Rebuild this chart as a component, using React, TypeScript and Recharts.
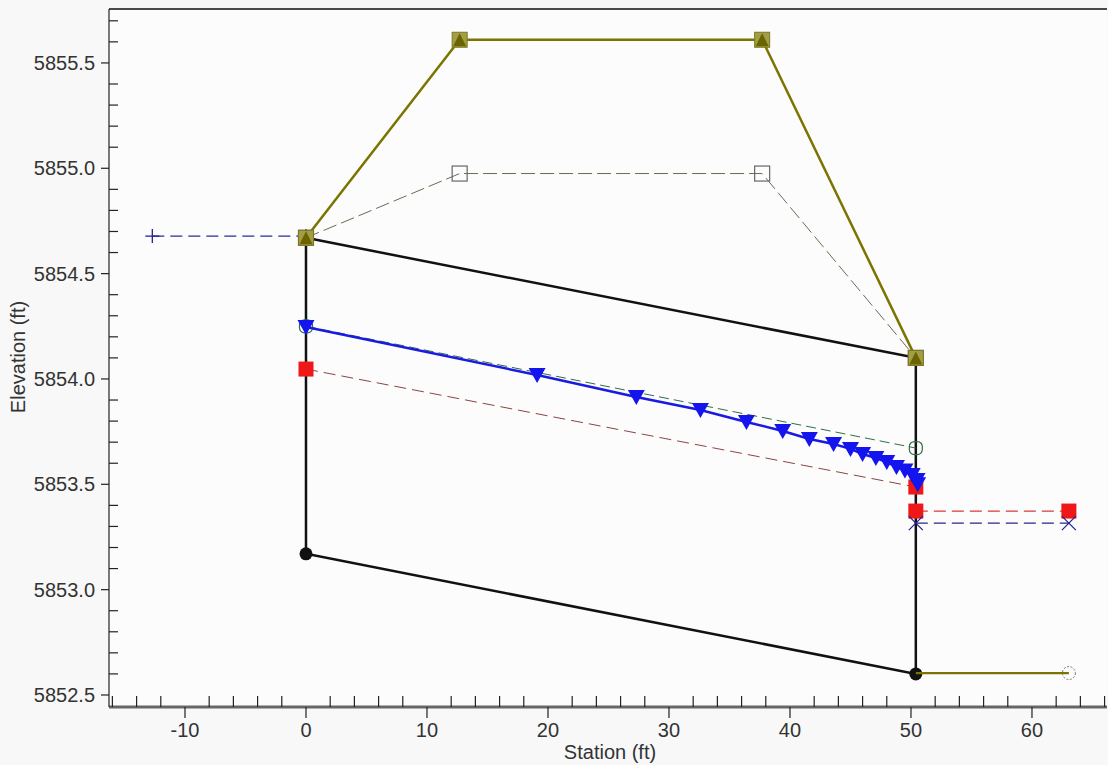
import React from 'react';
import { ScatterChart, Scatter, XAxis, YAxis, ReferenceLine, CartesianGrid, Label } from 'recharts';

// Axis setup
const X_DOMAIN: [number, number] = [-16.28, 66.2];
const Y_DOMAIN: [number, number] = [5852.443, 5855.756];

const xMajorTicks = [-10, 0, 10, 20, 30, 40, 50, 60];
const xMinorTicks = [-16, -14, -12, -8, -6, -4, -2, 2, 4, 6, 8, 12, 14, 16, 18, 22, 24, 26, 28, 32, 34, 36, 38, 42, 44, 46, 48, 52, 54, 56, 58, 62, 64, 66];
const yMajorTicks = [5852.5, 5853.0, 5853.5, 5854.0, 5854.5, 5855.0, 5855.5];
const yMinorTicks = [5852.6, 5852.7, 5852.8, 5852.9, 5853.1, 5853.2, 5853.3, 5853.4, 5853.6, 5853.7, 5853.8, 5853.9, 5854.1, 5854.2, 5854.3, 5854.4, 5854.6, 5854.7, 5854.8, 5854.9, 5855.1, 5855.2, 5855.3, 5855.4, 5855.6, 5855.7];

// Series (station ft, elevation ft)
const culvertOutline = [
  { x: 0, y: 5854.67 },
  { x: 50.4, y: 5854.1 },
  { x: 50.4, y: 5852.6 },
  { x: 0, y: 5853.17 },
  { x: 0, y: 5854.67 },
];
const roadTop = [
  { x: 0, y: 5854.67 },
  { x: 12.7, y: 5855.61 },
  { x: 37.7, y: 5855.61 },
  { x: 50.4, y: 5854.1 },
];
const roadLow = [
  { x: 0, y: 5854.67 },
  { x: 12.7, y: 5854.975 },
  { x: 37.7, y: 5854.975 },
  { x: 50.4, y: 5854.1 },
];
const upstreamApproach = [
  { x: -12.7, y: 5854.678 },
  { x: 0, y: 5854.678 },
];
const waterSurface = [
  { x: 0, y: 5854.247 },
  { x: 19.1, y: 5854.019 },
  { x: 27.3, y: 5853.914 },
  { x: 32.6, y: 5853.853 },
  { x: 36.4, y: 5853.796 },
  { x: 39.4, y: 5853.753 },
  { x: 41.6, y: 5853.715 },
  { x: 43.6, y: 5853.691 },
  { x: 45.0, y: 5853.668 },
  { x: 46.0, y: 5853.644 },
  { x: 47.1, y: 5853.625 },
  { x: 48.0, y: 5853.606 },
  { x: 48.8, y: 5853.582 },
  { x: 49.5, y: 5853.566 },
  { x: 50.1, y: 5853.544 },
  { x: 50.5, y: 5853.52 },
  { x: 50.55, y: 5853.5 },
];
const energyGrade = [
  { x: 0, y: 5854.25 },
  { x: 50.4, y: 5853.672 },
];
const criticalDepth = [
  { x: 0, y: 5854.047 },
  { x: 50.4, y: 5853.487 },
];
const downstreamCritical = [
  { x: 50.4, y: 5853.373 },
  { x: 63.05, y: 5853.373 },
];
const downstreamWs = [
  { x: 50.4, y: 5853.316 },
  { x: 63.05, y: 5853.316 },
];
const downstreamGround = [
  { x: 50.4, y: 5852.604 },
  { x: 63.05, y: 5852.604 },
];

const FONT = '"Liberation Sans", Arial, sans-serif';
const TEXT = '#333';
const xMajorSet = new Set(xMajorTicks);
const yMajorSet = new Set(yMajorTicks);
const allXTicks = [...xMajorTicks, ...xMinorTicks].sort((a, b) => a - b);
const allYTicks = [...yMajorTicks, ...yMinorTicks].sort((a, b) => a - b);

const XTick = (p: any) => {
  const { x, y, payload } = p;
  const v = payload.value;
  if (xMajorSet.has(v)) {
    return (
      <g>
        <line x1={x} x2={x} y1={y} y2={y + 11} stroke="#222" strokeWidth={1.2} />
        <text x={x} y={y + 30} textAnchor="middle" fontSize={20} fill={TEXT} fontFamily={FONT}>{String(v)}</text>
      </g>
    );
  }
  return <line x1={x} x2={x} y1={y} y2={y - 11} stroke="#222" strokeWidth={1.2} />;
};

const YTick = (p: any) => {
  const { x, y, payload } = p;
  const v = payload.value;
  if (yMajorSet.has(v)) {
    return (
      <g>
        <line x1={x - 8} x2={x} y1={y} y2={y} stroke="#222" strokeWidth={1.2} />
        <text x={x - 14} y={y + 7} textAnchor="end" fontSize={20} fill={TEXT} fontFamily={FONT}>{v.toFixed(1)}</text>
      </g>
    );
  }
  return <line x1={x} x2={x + 9} y1={y} y2={y} stroke="#222" strokeWidth={1.2} />;
};

const blackDotAtBottom = (p: any) =>
  p.index === 2 || p.index === 3 ? <circle cx={p.cx} cy={p.cy} r={6.5} fill="#111" /> : <g />;

const oliveSquare = (p: any) => (
  <g>
    <rect x={p.cx - 7.5} y={p.cy - 7.5} width={15} height={15} fill="#a39d45" stroke="#7d7820" strokeWidth={1} />
    <path d={`M${p.cx - 6.5},${p.cy + 6.5} L${p.cx},${p.cy - 6.5} L${p.cx + 6.5},${p.cy + 6.5} Z`} fill="#6a6400" />
  </g>
);

const openSquare = (p: any) => (
  <rect x={p.cx - 7.5} y={p.cy - 7.5} width={15} height={15} fill="none" stroke="#666" strokeWidth={1.2} />
);

const plusMark = (p: any) => (
  <g stroke="#22228a" strokeWidth={1.3}>
    <line x1={p.cx - 7} x2={p.cx + 7} y1={p.cy} y2={p.cy} />
    <line x1={p.cx} x2={p.cx} y1={p.cy - 7} y2={p.cy + 7} />
  </g>
);

const crossMark = (p: any) => (
  <g stroke="#22228a" strokeWidth={1.2}>
    <line x1={p.cx - 7} x2={p.cx + 7} y1={p.cy - 7} y2={p.cy + 7} />
    <line x1={p.cx - 7} x2={p.cx + 7} y1={p.cy + 7} y2={p.cy - 7} />
  </g>
);

const blueTriangle = (p: any) => (
  <path d={`M${p.cx - 8.5},${p.cy - 7} L${p.cx + 8.5},${p.cy - 7} L${p.cx},${p.cy + 8} Z`} fill="#1414ee" />
);

const redSquare = (p: any) => (
  <rect x={p.cx - 7.5} y={p.cy - 7.5} width={15} height={15} fill="#ee1818" />
);

const greenCircle = (p: any) => (
  <rect x={p.cx - 6.5} y={p.cy - 6.5} width={13} height={13} rx={5} fill="none" stroke="#2e6e45" strokeWidth={1.2} />
);

const grayCircleEnd = (p: any) =>
  p.index === 1 ? (
    <circle cx={p.cx} cy={p.cy} r={6.5} fill="none" stroke="#777" strokeWidth={1} strokeDasharray="2 1.5" />
  ) : (
    <g />
  );

export default function App() {
  return (
    <div style={{ position: 'absolute', left: 0, top: 0, width: 1108, height: 765, background: '#f8f8f8' }}>
      <ScatterChart width={1108} height={765} margin={{ top: 9, right: 1, bottom: 0, left: 0 }}>
        <CartesianGrid fill="#fcfcfc" horizontal={false} vertical={false} />
        <XAxis
          type="number"
          dataKey="x"
          domain={X_DOMAIN}
          allowDataOverflow
          ticks={allXTicks}
          interval={0}
          tickSize={0}
          tickMargin={0}
          tickLine={false}
          tick={XTick}
          height={58}
          axisLine={{ stroke: '#666', strokeWidth: 3 }}
        >
          <Label
            content={(props: any) => {
              const vb = props.viewBox || { x: 109, y: 707, width: 998, height: 58 };
              return (
                <text x={vb.x + vb.width / 2 + 2} y={759} textAnchor="middle" fontSize={20} fill={TEXT} fontFamily={FONT}>
                  Station (ft)
                </text>
              );
            }}
          />
        </XAxis>
        <YAxis
          type="number"
          dataKey="y"
          domain={Y_DOMAIN}
          allowDataOverflow
          ticks={allYTicks}
          interval={0}
          tickSize={0}
          tickMargin={0}
          tickLine={false}
          tick={YTick}
          width={109}
          axisLine={{ stroke: '#222', strokeWidth: 1.2 }}
        >
          <Label
            content={() => (
              <text x={25} y={357} transform="rotate(-90, 25, 357)" textAnchor="middle" fontSize={20} fill={TEXT} fontFamily={FONT}>
                Elevation (ft)
              </text>
            )}
          />
        </YAxis>
        <ReferenceLine y={Y_DOMAIN[1]} stroke="#111" strokeWidth={1.5} />

        <Scatter data={culvertOutline} isAnimationActive={false} line={{ stroke: '#111', strokeWidth: 2.5 }} shape={blackDotAtBottom} />
        <Scatter data={roadLow} isAnimationActive={false} line={{ stroke: '#6a6a55', strokeWidth: 1, strokeDasharray: '14 5' }} shape={openSquare} />
        <Scatter data={upstreamApproach} isAnimationActive={false} line={{ stroke: '#2b2b9a', strokeWidth: 1.2, strokeDasharray: '12 6' }} shape={plusMark} />
        <Scatter data={criticalDepth} isAnimationActive={false} line={{ stroke: '#8a4545', strokeWidth: 1, strokeDasharray: '12 6' }} shape={redSquare} />
        <Scatter data={energyGrade} isAnimationActive={false} line={{ stroke: '#2e6e45', strokeWidth: 1, strokeDasharray: '10 5' }} shape={greenCircle} />
        <Scatter data={downstreamGround} isAnimationActive={false} line={{ stroke: '#7c7400', strokeWidth: 2.2 }} shape={grayCircleEnd} />
        <Scatter data={downstreamCritical} isAnimationActive={false} line={{ stroke: '#d83838', strokeWidth: 1.2, strokeDasharray: '12 6' }} shape={redSquare} />
        <Scatter data={downstreamWs} isAnimationActive={false} line={{ stroke: '#26268c', strokeWidth: 1.2, strokeDasharray: '12 6' }} shape={crossMark} />
        <Scatter data={roadTop} isAnimationActive={false} line={{ stroke: '#7c7400', strokeWidth: 2.5 }} shape={oliveSquare} />
        <Scatter data={waterSurface} isAnimationActive={false} line={{ stroke: '#1a1ae0', strokeWidth: 2.5 }} shape={blueTriangle} />
      </ScatterChart>
    </div>
  );
}
